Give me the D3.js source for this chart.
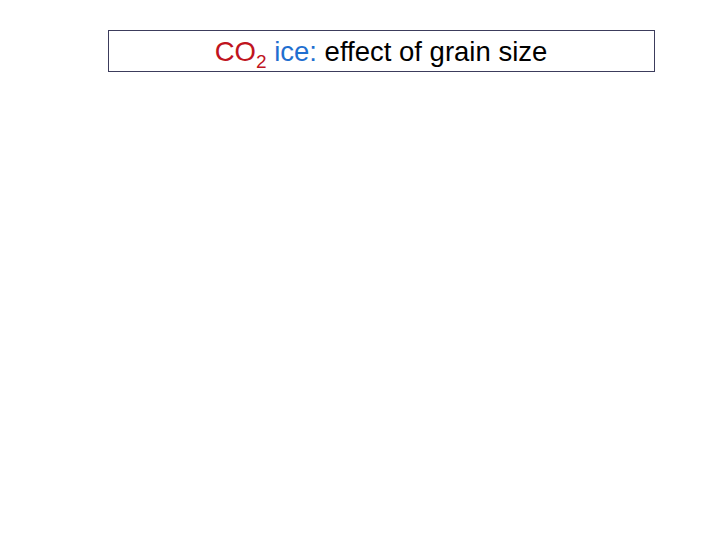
<!DOCTYPE html>
<html>
<head>
<meta charset="utf-8">
<script src="https://cdn.jsdelivr.net/npm/d3@7/dist/d3.min.js"></script>
<style>
html,body{margin:0;padding:0;background:#fff;}
</style>
</head>
<body>
<script>
const titleTexts = ["CO", "2", " ice:", " effect of grain size"];
const titleRoles = ["main", "sub", "main", "main"];
const titleColors = ["#c0141e", "#c0141e", "#1f6fd0", "#000000"];

const W = 720, H = 540;
const svg = d3.select("body").append("svg").attr("width", W).attr("height", H);

svg.append("rect")
  .attr("x", 108.5).attr("y", 30.5)
  .attr("width", 546).attr("height", 41)
  .attr("fill", "none").attr("stroke", "#3c3c5c").attr("stroke-width", 1);

const text = svg.append("text")
  .attr("x", 381).attr("y", 61)
  .attr("text-anchor", "middle")
  .attr("font-family", "Liberation Sans, Arial, sans-serif")
  .attr("font-size", 27.5)
  .attr("xml:space", "preserve");

titleTexts.forEach((t, i) => {
  const ts = text.append("tspan")
    .attr("fill", titleColors[i])
    .text(t);
  if (titleRoles[i] === "sub") {
    ts.attr("font-size", 19).attr("dy", 7);
  } else if (i > 0 && titleRoles[i - 1] === "sub") {
    ts.attr("dy", -7);
  }
});
</script>
</body>
</html>
